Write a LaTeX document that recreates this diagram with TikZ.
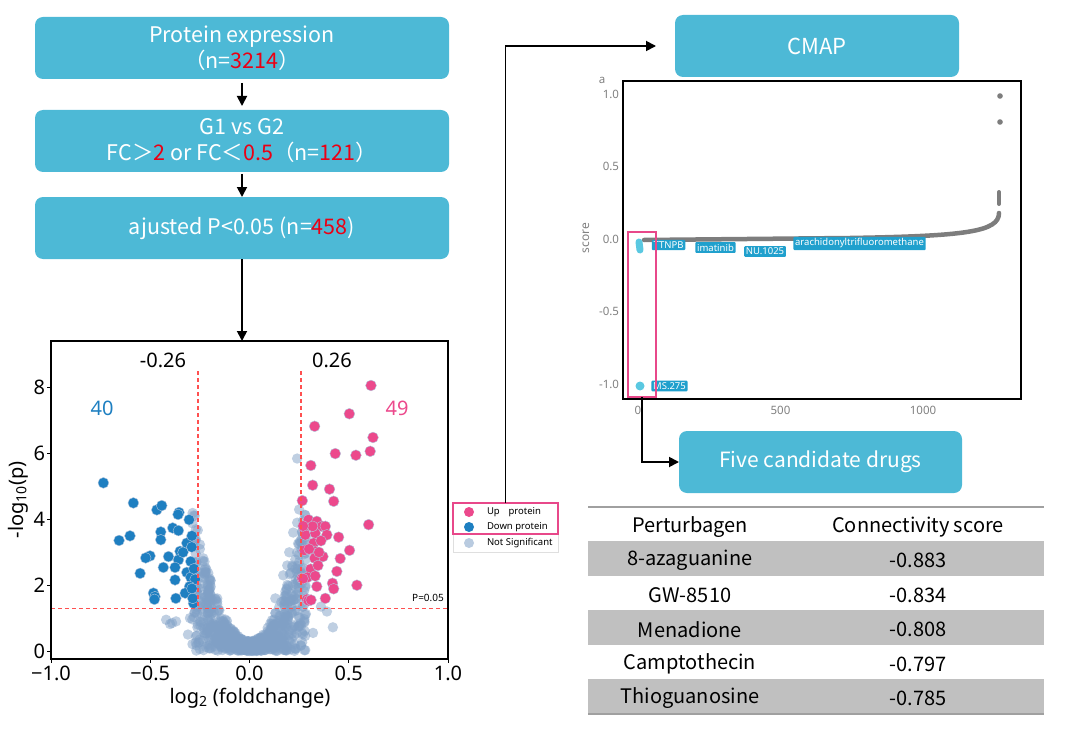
\documentclass[tikz,border=0pt]{standalone}
\usepackage{fontspec}
\setmainfont{Noto Sans}
\newfontfamily\cjk{Noto Sans CJK SC}
\usetikzlibrary{arrows.meta}

\definecolor{boxblue}{RGB}{77,185,214}
\definecolor{numred}{RGB}{235,0,20}
\definecolor{upcol}{RGB}{236,73,140}
\definecolor{downcol}{RGB}{30,127,193}
\definecolor{nscol}{RGB}{128,160,198}
\definecolor{dashred}{RGB}{255,80,80}
\definecolor{tagblue}{RGB}{32,160,205}
\definecolor{dotcyan}{RGB}{90,200,225}
\definecolor{selpink}{RGB}{232,72,138}
\definecolor{curvegray}{RGB}{125,125,125}
\definecolor{bandgray}{RGB}{192,192,192}
\definecolor{rulegray}{RGB}{160,160,160}

\newcommand\rednum[1]{\textcolor{numred}{#1}}

\tikzset{
  flowbox/.style={fill=boxblue, rounded corners=8pt, minimum height=62pt,
    text=white, align=center, font=\cjk\fontsize{21.5}{26}\selectfont},
  flowarrow/.style={-{Triangle[length=10pt,width=10pt]}, line width=1.8pt},
  plotframe/.style={draw=black, line width=2pt, minimum width=397pt, minimum height=318pt},
  plottext/.style={font=\fontsize{20}{24}\selectfont},
  updot/.style={fill=upcol, draw=nscol!60, line width=0.4pt},
  downdot/.style={fill=downcol, draw=nscol!60, line width=0.4pt},
  nsdot/.style={fill=nscol, opacity=0.5},
  thresh/.style={dashred, line width=1.3pt, dash pattern=on 4pt off 3pt},
  legtext/.style={anchor=west, font=\fontsize{9.5}{11}\selectfont},
  cmaptick/.style={text=gray, font=\fontsize{11.5}{13}\selectfont},
  drugtag/.style={fill=tagblue, text=white, inner sep=1.8pt, rounded corners=1pt,
    font=\fontsize{9.5}{11}\selectfont},
  tabtext/.style={font=\cjk\fontsize{20}{24}\selectfont}
}

\begin{document}
\begin{tikzpicture}[x=1pt, y=1pt, yscale=-1, inner sep=0pt, outer sep=0pt]
\useasboundingbox (0,0) rectangle (1067,738);

% flow chart on the left
\node[flowbox, minimum width=414pt] (expr) at (242,48)
  {Protein expression\\（n=\rednum{3214}）};
\node[flowbox, minimum width=414pt] (fcfilter) at (242,141)
  {G1 vs G2\\FC＞\rednum{2} or FC＜\rednum{0.5}（n=\rednum{121}）};
\node[flowbox, minimum width=414pt] (pfilter) at (242,228)
  {ajusted P<0.05 (n=\rednum{458})};
\node[plotframe] (volcano) at (249.5,500) {};

\draw[flowarrow, shorten <=4pt, shorten >=4pt] (expr.south) -- (fcfilter.north);
\draw[flowarrow, shorten <=2pt] (fcfilter.south) -- (pfilter.north);
\draw[flowarrow] (pfilter.south) -- (pfilter.south |- volcano.north);

% volcano plot, data coordinates
\begin{scope}[shift={(249.5,651)}, x=198.5pt, y=-32.9pt]
\pgfmathsetseed{11}
\foreach \k in {1,...,750}{
  \pgfmathsetmacro\gx{0.29*rand}
  \pgfmathsetmacro\gy{(50*\gx*\gx+0.3)*rnd}
  \fill[nsdot] (\gx,\gy) circle (5.2pt);
}
\foreach \gx/\gy in {0.24/5.85,0.25/4.3,0.24/3.9,0.22/3.6,0.26/3.3,0.2/3.0,
  -0.27/3.7,-0.28/3.4,-0.25/3.1,-0.42/0.95,-0.39/0.85,-0.37/0.9,-0.40/0.82,
  0.32/0.55,0.42/0.72,0.39/1.2,0.36/1.35,-0.31/0.5,-0.27/0.45,0.25/2.7,
  -0.22/2.4,0.17/2.3,0.13/1.6,-0.2/1.9,0.28/1.1,-0.3/1.0,-0.21/2.0,0.19/2.6}
  \fill[nsdot] (\gx,\gy) circle (5.2pt);

\foreach \gx/\gy in {-0.736/5.11,-0.585/4.50,-0.657/3.36,-0.602/3.50,-0.467/4.29,
  -0.442/4.42,-0.355/4.21,-0.304/3.99,-0.387/3.74,-0.358/3.66,-0.447/3.62,
  -0.447/3.38,-0.316/3.28,-0.291/3.16,-0.350/3.03,-0.501/2.89,-0.523/2.83,
  -0.408/2.87,-0.358/2.77,-0.296/2.72,-0.434/2.54,-0.375/2.54,-0.551/2.36,
  -0.316/2.39,-0.296/2.24,-0.274/2.18,-0.375/2.16,-0.302/1.96,-0.484/1.76,
  -0.476/1.65,-0.479/1.57,-0.324/1.76,-0.371/1.60,-0.282/1.45,-0.286/1.60,
  -0.335/3.0,-0.29/1.9,-0.28/2.5,-0.36/4.15,-0.29/3.5}
  \filldraw[downdot] (\gx,\gy) circle (5.4pt);

\foreach \gx/\gy in {0.612/8.07,0.503/7.21,0.328/6.83,0.622/6.49,0.608/6.07,
  0.432/6.00,0.536/5.95,0.309/5.64,0.318/5.04,0.403/4.92,0.424/4.55,0.266/4.57,
  0.600/3.84,0.297/3.99,0.339/3.94,0.365/3.79,0.382/3.79,0.276/3.69,0.281/3.53,
  0.331/3.58,0.390/3.53,0.449/3.46,0.323/3.28,0.276/3.06,0.331/3.03,0.504/3.06,
  0.370/2.87,0.328/2.82,0.457/2.81,0.308/2.49,0.440/2.42,0.264/2.21,0.292/2.24,
  0.331/2.28,0.418/2.06,0.424/1.89,0.339/1.96,0.541/2.00,0.289/1.57,0.297/1.53,
  0.382/1.60,0.318/3.79,0.30/3.1,0.36/3.35,0.27/2.2,0.31/1.55,0.35/3.0,
  0.27/3.8,0.345/2.6}
  \filldraw[updot] (\gx,\gy) circle (5.4pt);

\draw[thresh] (-0.26,8.5) -- (-0.26,1.301);
\draw[thresh] (0.26,8.5) -- (0.26,1.301);
\draw[thresh] (-1,1.301) -- (1,1.301);
\foreach \v in {0,2,...,8}
  \draw[line width=1pt] (-1,\v) -- ++(-4pt,0);
\foreach \v in {-1,-0.5,0,0.5,1}
  \draw[line width=1pt] (\v,-0.24) -- ++(0,4pt);
\end{scope}
\node[plotframe] at (volcano) {};

\foreach \v in {0,2,...,8}
  \node[plottext, anchor=east] (ytick\v) at (45,{651-32.9*\v}) {\v};
\foreach \v/\lab in {-1/−1.0,-0.5/−0.5,0/0.0,0.5/0.5,1/1.0}
  \node[plottext] at ({249.5+198.5*\v},673) {\lab};
\node[plottext, rotate=90] (ylab) at (18,500) {-log\textsubscript{10}(p)};
\node[plottext] (xlab) at (250,698) {log\textsubscript{2} (foldchange)};
\node[plottext] (lowcut) at (163,360) {-0.26};
\node[plottext] (highcut) at (332,360) {0.26};
\node[plottext, text=downcol] (ndown) at (102,408) {40};
\node[plottext, text=upcol] (nup) at (397,408) {49};
\node[font=\fontsize{10}{12}\selectfont] (pcut) at (428,598) {P=0.05};

% legend
\node[fill=white, draw=gray!25, line width=0.6pt, minimum width=105pt,
  minimum height=49pt] (legend) at (505.5,527.5) {};
\node[draw=selpink, line width=1.5pt, minimum width=105pt,
  minimum height=31pt] (legsel) at (505.5,518.5) {};
\fill[upcol] (469,512) circle (5pt);
\fill[downcol] (469,527) circle (5pt);
\fill[nscol!55] (469,543) circle (5pt);
\node[legtext] (legup) at (487,512) {Up\enspace\, protein};
\node[legtext] (legdown) at (487,527) {Down protein};
\node[legtext] (legns) at (487,543) {Not Significant};

% CMAP part
\node[flowbox, minimum width=284pt, font=\cjk\fontsize{22}{26}\selectfont]
  (cmap) at (817,46) {CMAP};
\draw[flowarrow] (legsel.north) |- ([xshift=-19pt]cmap.west);

\node[plotframe, minimum width=398pt] (cmapplot) at (822,240) {};
\foreach \v/\lab in {1/1.0,0.5/0.5,0/0.0,-0.5/-0.5,-1/-1.0}
  \node[cmaptick, anchor=east] at (619,{239-145*\v}) {\lab};
\foreach \v in {0,500,1000}
  \node[cmaptick] at ({638+0.285*\v},410) {\v};
\node[cmaptick, rotate=90, font=\bfseries\fontsize{12}{14}\selectfont] (scorelab) at (586,238) {score};
\node[cmaptick] (panel) at (602,80) {a};

\draw[curvegray, line width=4.5pt, line cap=round]
  (644,240) -- (850,238) .. controls (965,236) and (999,232) .. (999,213);
\draw[curvegray, line width=4pt, line cap=round] (999,192) -- (999,204);
\fill[curvegray] (1000,96) circle (2.8pt);
\fill[curvegray] (1000,122) circle (2.8pt);
\draw[dotcyan, line width=7pt, line cap=round] (639,242) -- (640,250);
\fill[dotcyan] (640,386) circle (4.5pt);

\node[drugtag] (ttnpb) at (668.5,245) {TTNPB};
\node[drugtag] (imatinib) at (715.5,247.5) {imatinib};
\node[drugtag] (nu1025) at (765,251.5) {NU.1025};
\node[drugtag] (arachid) at (859.5,243.5) {arachidonyltrifluoromethane};
\node[drugtag] (ms275) at (669.5,386) {MS.275};

\node[draw=selpink, line width=1.5pt, minimum width=28pt, minimum height=165pt]
  (cmapsel) at (642,314.5) {};

\node[flowbox, minimum width=283pt, font=\cjk\fontsize{21}{26}\selectfont]
  (drugs) at (820.5,462) {Five candidate drugs};
\draw[flowarrow] (cmapsel.south) |- (drugs.west);

% table of the five drugs
\draw[rulegray, line width=2pt] (588,507) -- (1044,507);
\fill[bandgray] (588,541) rectangle (1044,576);
\fill[bandgray] (588,610) rectangle (1044,644.5);
\fill[bandgray] (588,679) rectangle (1044,714);
\draw[rulegray, line width=1.5pt] (588,714) -- (1044,714);
\node[tabtext] (headdrug) at (690,527) {Perturbagen};
\node[tabtext] (headscore) at (918,527) {Connectivity score};
\foreach \drug/\score [count=\i] in {8-azaguanine/-0.883,GW-8510/-0.834,
  Menadione/-0.808,Camptothecin/-0.797,Thioguanosine/-0.785}{
  \node[tabtext] (drug\i) at (690,{560.5+34.5*(\i-1)}) {\drug};
  \node[tabtext] (score\i) at (918,{560.5+34.5*(\i-1)}) {\score};
}

\end{tikzpicture}
\end{document}
